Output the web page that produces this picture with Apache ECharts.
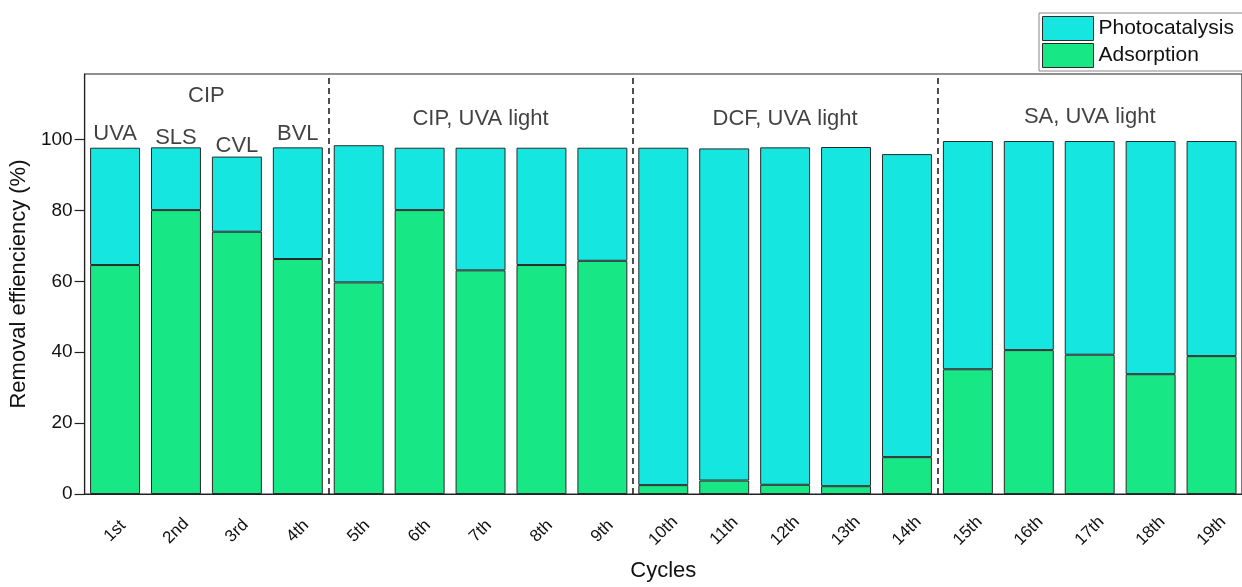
<!DOCTYPE html>
<html>
<head>
<meta charset="utf-8">
<script src="https://cdn.jsdelivr.net/npm/echarts@6/dist/echarts.min.js"></script>
<style>
html,body{margin:0;padding:0;background:#fff;}
#chart{width:1242px;height:587px;}
</style>
</head>
<body>
<div id="chart"></div>
<script>
const categories = ['1st','2nd','3rd','4th','5th','6th','7th','8th','9th','10th','11th','12th','13th','14th','15th','16th','17th','18th','19th'];
const adsorption = [64.6, 80.1, 74, 66.3, 59.7, 80.1, 63.1, 64.6, 65.8, 2.5, 3.8, 2.6, 2.2, 10.4, 35.2, 40.6, 39.3, 33.8, 38.9];
const photocatalysis = [33.1, 17.7, 21.2, 31.5, 38.7, 17.6, 34.6, 33.1, 31.9, 95.2, 93.7, 95.2, 95.7, 85.5, 64.4, 59, 60.3, 65.8, 60.7];
const yTickValues = [0, 20, 40, 60, 80, 100];
const groupBoundaries = [4, 9, 14];
const annotations = [
  {text: 'CIP', x: 2.0, y: 112.3},
  {text: 'UVA', x: 0.5, y: 101.6},
  {text: 'SLS', x: 1.5, y: 100.5},
  {text: 'CVL', x: 2.5, y: 98.3},
  {text: 'BVL', x: 3.5, y: 101.7},
  {text: 'CIP, UVA light', x: 6.5, y: 105.9},
  {text: 'DCF, UVA light', x: 11.5, y: 105.7},
  {text: 'SA, UVA light', x: 16.5, y: 106.3}
];

const chart = echarts.init(document.getElementById('chart'));
const FONT = 'Liberation Sans, Arial, sans-serif';
const cyan = '#16E6E0';
const green = '#17E885';
const edge = '#2a2a2a';

chart.setOption({
  animation: false,
  textStyle: {fontFamily: FONT, color: '#111'},
  grid: {left: 83, top: 74, width: 1162, bottom: 86, show: true, borderColor: '#222', borderWidth: 1.2, backgroundColor: 'transparent'},
  legend: {
    data: ['Photocatalysis', 'Adsorption'],
    orient: 'vertical',
    left: 1039, top: 13,
    padding: [3, 60, 3, 3],
    itemWidth: 51, itemHeight: 24, itemGap: 2,
    icon: 'rect',
    backgroundColor: '#fff',
    borderColor: '#888', borderWidth: 1,
    itemStyle: {borderColor: edge, borderWidth: 1},
    textStyle: {fontSize: 21, fontFamily: FONT, color: '#111'}
  },
  xAxis: [{
    type: 'category',
    data: categories,
    name: 'Cycles',
    nameLocation: 'middle',
    nameGap: 66,
    nameTextStyle: {fontSize: 22, fontFamily: FONT, color: '#111'},
    axisLine: {lineStyle: {color: '#222', width: 1.2}},
    axisTick: {alignWithLabel: true, length: 9, lineStyle: {color: '#222', width: 1.2}},
    axisLabel: {rotate: 45, fontSize: 17, margin: 37, align: 'center', verticalAlign: 'middle', color: '#111', fontFamily: FONT}
  }, {
    type: 'value', min: 0, max: 19, show: false
  }],
  yAxis: {
    type: 'value',
    min: 0, max: 118.5,
    name: 'Removal effienciency (%)',
    nameLocation: 'middle',
    nameGap: 47,
    nameTextStyle: {fontSize: 22, fontFamily: FONT, color: '#111'},
    splitLine: {show: false},
    axisLine: {show: true, lineStyle: {color: '#222', width: 1.2}},
    axisTick: {show: true, length: 10, customValues: yTickValues, lineStyle: {color: '#222', width: 1.2}},
    axisLabel: {fontSize: 19, margin: 12, color: '#111', fontFamily: FONT, customValues: yTickValues}
  },
  series: [{
    name: 'Adsorption',
    type: 'bar',
    stack: 'removal',
    data: adsorption,
    barCategoryGap: '18%',
    itemStyle: {color: green, borderColor: edge, borderWidth: 1}
  }, {
    name: 'Photocatalysis',
    type: 'bar',
    stack: 'removal',
    data: photocatalysis,
    barCategoryGap: '18%',
    itemStyle: {color: cyan, borderColor: edge, borderWidth: 1}
  }, {
    name: 'dividers',
    type: 'line',
    xAxisIndex: 1,
    data: [],
    silent: true,
    markLine: {
      silent: true,
      symbol: 'none',
      label: {show: false},
      lineStyle: {type: [6, 4], color: '#222', width: 1.6},
      data: groupBoundaries.map(v => ({xAxis: v}))
    }
  }, {
    name: 'annotations',
    type: 'scatter',
    xAxisIndex: 1,
    symbolSize: 0,
    silent: true,
    data: annotations.map(a => [a.x, a.y, a.text]),
    label: {
      show: true,
      position: 'inside',
      formatter: p => p.value[2],
      fontSize: 22,
      fontFamily: FONT,
      color: '#111'
    }
  }]
});
</script>
</body>
</html>
